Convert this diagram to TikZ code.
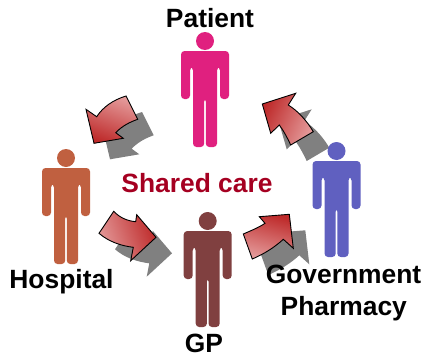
\documentclass[tikz,border=0pt]{standalone}
\usepackage{fontspec}
\usepackage{xcolor}
\setmainfont{Liberation Sans}
\definecolor{patientcol}{HTML}{E0207F}
\definecolor{hospitalcol}{HTML}{C06040}
\definecolor{gpcol}{HTML}{804040}
\definecolor{pharmacycol}{HTML}{6060C0}
\definecolor{sharedcol}{HTML}{A50021}
\definecolor{arrowlight}{HTML}{E49A9A}
\definecolor{arrowdark}{HTML}{BE2A2A}
\tikzset{
	label text/.style={font=\fontsize{26.4}{32}\selectfont\bfseries, anchor=base, inner sep=0pt},
	arrow body/.style={draw=black, line width=0.9pt, line join=miter, top color=arrowlight, bottom color=arrowdark},
	arrow shadow/.style={fill=black!50, xshift=16pt, yshift=-16pt}
}
% head at (#1,#2)
\newcommand{\person}[3]{
	\fill[#3] (#1,#2) circle (9);
	\fill[#3, rounded corners=3.5pt] (#1-24,#2+10) -- (#1+24,#2+10) -- (#1+24,#2+58) -- (#1+15,#2+58) -- (#1+15,#2+26) -- (#1+12,#2+26) -- (#1+12,#2+106) -- (#1+0.8,#2+106) -- (#1+0.8,#2+57) -- (#1-0.8,#2+57) -- (#1-0.8,#2+106) -- (#1-12,#2+106) -- (#1-12,#2+26) -- (#1-15,#2+26) -- (#1-15,#2+58) -- (#1-24,#2+58) -- cycle;
}
% #1 gradient angle, #2 outline
\newcommand{\blockarrow}[2]{
	\fill[arrow shadow] #2;
	\draw[arrow body, shading angle=#1] #2;
}
\begin{document}
\begin{tikzpicture}[x=1pt, y=-1pt]
	\useasboundingbox (0,0) rectangle (425,356);
	\blockarrow{-20}{(86,109.3) -- (94,143.3) -- (123.3,138.3) -- (115.7,132.7) .. controls (122,126) and (130,122) .. (137.7,119.3) -- (126,96) .. controls (113,100) and (103,107) .. (96.7,116.7) -- cycle}
	\blockarrow{110}{(99,233.3) -- (113.7,211.3) .. controls (120,218) and (128,221) .. (135.7,221.7) -- (136.7,214.7) -- (156,237.3) -- (130.7,260.7) -- (133.3,247.3) .. controls (122,246) and (109,242) .. (99,233.3) -- cycle}
	\blockarrow{165}{(243.3,234) .. controls (250,231) and (258,228) .. (265,223.3) -- (259.3,216.7) -- (289.3,214.3) -- (293.3,248.3) -- (283.3,239.3) .. controls (275,247) and (264,254) .. (252.3,259) -- cycle}
	\blockarrow{-115}{(313.3,131.7) -- (290.7,145) .. controls (287,137) and (283,130) .. (279.3,125) -- (270.7,133.3) -- (262.3,104) -- (295.7,93.3) -- (288.3,105) .. controls (298,111) and (307,121) .. (313.3,131.7) -- cycle}
	\person{205}{41}{patientcol}
	\person{66}{158}{hospitalcol}
	\person{207.7}{221}{gpcol}
	\person{336.5}{151}{pharmacycol}
	\node[label text] (patient) at (210,27.7) {Patient};
	\node[label text, text=sharedcol] (shared) at (197,192.7) {Shared care};
	\node[label text] (hospital) at (61.5,288.3) {Hospital};
	\node[label text] (gp) at (204,352.7) {GP};
	\node[label text] (government) at (343.5,283.5) {Government};
	\node[label text] (pharmacy) at (343.8,315) {Pharmacy};
\end{tikzpicture}
\end{document}
